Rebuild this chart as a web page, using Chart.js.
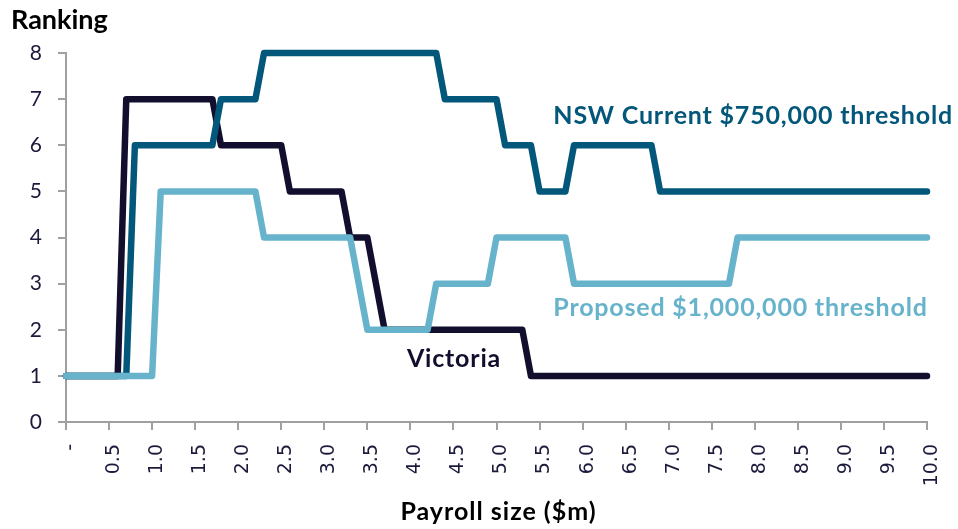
<!DOCTYPE html>
<html>
<head>
<meta charset="utf-8">
<script src="https://cdn.jsdelivr.net/npm/chart.js@4.4.0/dist/chart.umd.min.js"></script>
<style>
  html, body { margin: 0; padding: 0; background: #fff; overflow: hidden; }
  #wrap { width: 958px; height: 529px; position: relative; }
</style>
</head>
<body>
<div id="wrap"><canvas id="rankChart"></canvas></div>
<script>
// Payroll tax ranking by payroll size ($m), one reading every $0.1m
const payroll = [
  0.0, 0.1, 0.2, 0.3, 0.4, 0.5, 0.6, 0.7, 0.8, 0.9,
  1.0, 1.1, 1.2, 1.3, 1.4, 1.5, 1.6, 1.7, 1.8, 1.9,
  2.0, 2.1, 2.2, 2.3, 2.4, 2.5, 2.6, 2.7, 2.8, 2.9,
  3.0, 3.1, 3.2, 3.3, 3.4, 3.5, 3.6, 3.7, 3.8, 3.9,
  4.0, 4.1, 4.2, 4.3, 4.4, 4.5, 4.6, 4.7, 4.8, 4.9,
  5.0, 5.1, 5.2, 5.3, 5.4, 5.5, 5.6, 5.7, 5.8, 5.9,
  6.0, 6.1, 6.2, 6.3, 6.4, 6.5, 6.6, 6.7, 6.8, 6.9,
  7.0, 7.1, 7.2, 7.3, 7.4, 7.5, 7.6, 7.7, 7.8, 7.9,
  8.0, 8.1, 8.2, 8.3, 8.4, 8.5, 8.6, 8.7, 8.8, 8.9,
  9.0, 9.1, 9.2, 9.3, 9.4, 9.5, 9.6, 9.7, 9.8, 9.9,
  10.0
];

const tickLabels = ['-', '0.5', '1.0', '1.5', '2.0', '2.5', '3.0', '3.5', '4.0', '4.5', '5.0',
  '5.5', '6.0', '6.5', '7.0', '7.5', '8.0', '8.5', '9.0', '9.5', '10.0'];

const victoria = [
  1, 1, 1, 1, 1, 1, 1, 7, 7, 7,
  7, 7, 7, 7, 7, 7, 7, 7, 6, 6,
  6, 6, 6, 6, 6, 6, 5, 5, 5, 5,
  5, 5, 5, 4, 4, 4, 3, 2, 2, 2,
  2, 2, 2, 2, 2, 2, 2, 2, 2, 2,
  2, 2, 2, 2, 1, 1, 1, 1, 1, 1,
  1, 1, 1, 1, 1, 1, 1, 1, 1, 1,
  1, 1, 1, 1, 1, 1, 1, 1, 1, 1,
  1, 1, 1, 1, 1, 1, 1, 1, 1, 1,
  1, 1, 1, 1, 1, 1, 1, 1, 1, 1,
  1
];

const nswCurrent = [
  1, 1, 1, 1, 1, 1, 1, 1, 6, 6,
  6, 6, 6, 6, 6, 6, 6, 6, 7, 7,
  7, 7, 7, 8, 8, 8, 8, 8, 8, 8,
  8, 8, 8, 8, 8, 8, 8, 8, 8, 8,
  8, 8, 8, 8, 7, 7, 7, 7, 7, 7,
  7, 6, 6, 6, 6, 5, 5, 5, 5, 6,
  6, 6, 6, 6, 6, 6, 6, 6, 6, 5,
  5, 5, 5, 5, 5, 5, 5, 5, 5, 5,
  5, 5, 5, 5, 5, 5, 5, 5, 5, 5,
  5, 5, 5, 5, 5, 5, 5, 5, 5, 5,
  5
];

const proposed = [
  1, 1, 1, 1, 1, 1, 1, 1, 1, 1,
  1, 5, 5, 5, 5, 5, 5, 5, 5, 5,
  5, 5, 5, 4, 4, 4, 4, 4, 4, 4,
  4, 4, 4, 4, 3, 2, 2, 2, 2, 2,
  2, 2, 2, 3, 3, 3, 3, 3, 3, 3,
  4, 4, 4, 4, 4, 4, 4, 4, 4, 3,
  3, 3, 3, 3, 3, 3, 3, 3, 3, 3,
  3, 3, 3, 3, 3, 3, 3, 3, 4, 4,
  4, 4, 4, 4, 4, 4, 4, 4, 4, 4,
  4, 4, 4, 4, 4, 4, 4, 4, 4, 4,
  4
];

const COL_VIC = '#120f2e';
const COL_NSW = '#03577a';
const COL_PROP = '#67b3cc';
const AXIS_GREY = '#a0a0a0';
const TICK_TEXT = '#1c1a3c';

// inline series labels (data coords of the left end / baseline)
const notes = [
  { text: 'NSW Current $750,000 threshold', x: 5.66, y: 6.45, color: COL_NSW },
  { text: 'Proposed $1,000,000 threshold', x: 5.66, y: 2.3, color: COL_PROP },
  { text: 'Victoria', x: 3.96, y: 1.19, color: COL_VIC }
];

function toPoints(series) {
  return payroll.map((p, i) => ({ x: p, y: series[i] }));
}

function lineSet(label, series, color) {
  return {
    label: label,
    data: toPoints(series),
    borderColor: color,
    backgroundColor: color,
    borderWidth: 6.5,
    pointRadius: 0,
    tension: 0,
    borderJoinStyle: 'round',
    borderCapStyle: 'round',
    clip: false
  };
}

const notesPlugin = {
  id: 'notes',
  afterDatasetsDraw(chart) {
    const { ctx, chartArea, scales: { x, y } } = chart;
    ctx.save();
    ctx.textBaseline = 'alphabetic';
    ctx.textAlign = 'left';
    ctx.font = 'bold 25px Lato';
    ctx.letterSpacing = '0.8px';
    notes.forEach(n => {
      ctx.fillStyle = n.color;
      ctx.fillText(n.text, x.getPixelForValue(n.x), y.getPixelForValue(n.y));
    });
    // axis captions, Excel style
    ctx.fillStyle = '#000';
    ctx.letterSpacing = '0px';
    ctx.font = 'bold 27px Lato';
    ctx.fillText('Ranking', 11, 29);
    ctx.textAlign = 'center';
    ctx.font = 'bold 25px Lato';
    ctx.letterSpacing = '1px';
    ctx.fillText('Payroll size ($m)', (chartArea.left + chartArea.right) / 2 + 2, 520);
    ctx.restore();
  }
};

// first dataset is painted last, so the light line ends up on top
new Chart(document.getElementById('rankChart'), {
  type: 'line',
  data: {
    datasets: [
      lineSet('Proposed $1,000,000 threshold', proposed, COL_PROP),
      lineSet('NSW Current $750,000 threshold', nswCurrent, COL_NSW),
      lineSet('Victoria', victoria, COL_VIC)
    ]
  },
  options: {
    responsive: true,
    maintainAspectRatio: false,
    animation: false,
    layout: { padding: { left: 0, right: 31, top: 53, bottom: 0 } },
    plugins: {
      legend: { display: false },
      tooltip: { enabled: false }
    },
    scales: {
      x: {
        type: 'linear',
        min: 0,
        max: 10,
        afterFit: (s) => { s.height = 107; s.paddingRight = 0; s.paddingLeft = 0; },
        grid: { drawOnChartArea: false, color: AXIS_GREY, lineWidth: 2, tickLength: 8 },
        border: { color: AXIS_GREY, width: 2 },
        ticks: {
          stepSize: 0.5,
          autoSkip: false,
          minRotation: 90,
          maxRotation: 90,
          padding: 14,
          labelOffset: 5,
          color: TICK_TEXT,
          font: { family: 'DejaVu Sans', size: 19 },
          callback: (val, i) => tickLabels[i]
        }
      },
      y: {
        min: 0,
        max: 8,
        afterFit: (s) => { s.width = 66; },
        grid: { drawOnChartArea: false, color: AXIS_GREY, lineWidth: 2, tickLength: 8 },
        border: { color: AXIS_GREY, width: 2 },
        ticks: {
          stepSize: 1,
          padding: 16,
          color: TICK_TEXT,
          font: { family: 'Lato', size: 21 }
        }
      }
    }
  },
  plugins: [notesPlugin]
});
</script>
</body>
</html>
